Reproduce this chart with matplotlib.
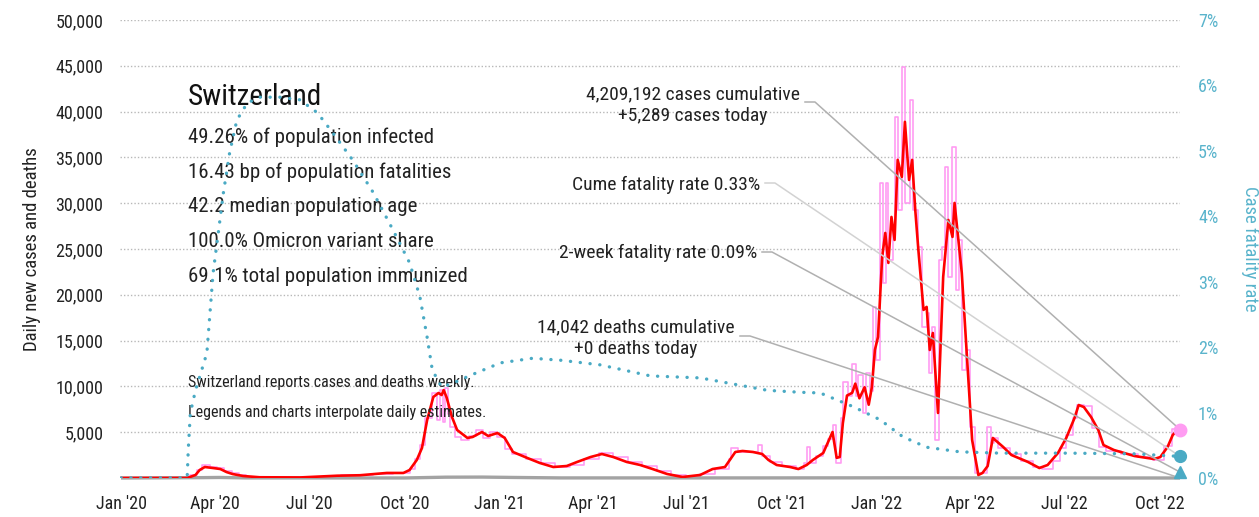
import pandas as pd
import matplotlib
matplotlib.use('Agg')
import matplotlib.pyplot as plt
import matplotlib.dates as mdates
from matplotlib import font_manager as fm
from matplotlib.ticker import FuncFormatter

# pick a narrow family if one is installed
available = {f.name for f in fm.fontManager.ttflist}
FONT = 'DejaVu Sans'
for name in ['Roboto Condensed', 'Liberation Sans Narrow', 'DejaVu Sans Condensed']:
    if name in available:
        FONT = name
        break
plt.rcParams['font.family'] = [FONT, 'DejaVu Sans']
plt.rcParams['font.stretch'] = 'condensed'

# Colors
RED = '#ff0000'
PINK = '#ff9cf2'
TEAL = '#4aaac4'
TEAL_TXT = '#5ab4cc'
GRID = '#b8b8b8'

# ---- data ----
# 7-day average of new cases (red)
avg_dates = [
    '2020-01-01', '2020-03-05', '2020-03-13', '2020-03-17', '2020-03-22', '2020-03-30', '2020-04-06', '2020-04-12', '2020-04-18', '2020-04-28',
    '2020-05-14', '2020-06-22', '2020-07-28', '2020-08-19', '2020-09-14', '2020-09-30', '2020-10-06', '2020-10-13', '2020-10-18', '2020-10-23',
    '2020-10-29', '2020-11-03', '2020-11-06', '2020-11-08', '2020-11-11', '2020-11-16', '2020-11-21', '2020-12-01', '2020-12-06', '2020-12-15',
    '2020-12-21', '2020-12-30', '2021-01-06', '2021-01-14', '2021-01-28', '2021-02-09', '2021-02-22', '2021-03-07', '2021-03-17', '2021-03-30',
    '2021-04-10', '2021-04-21', '2021-05-04', '2021-05-17', '2021-05-29', '2021-06-12', '2021-06-27', '2021-07-14', '2021-07-26', '2021-08-07',
    '2021-08-17', '2021-08-24', '2021-09-03', '2021-09-12', '2021-09-18', '2021-09-26', '2021-10-09', '2021-10-17', '2021-10-25', '2021-10-31',
    '2021-11-10', '2021-11-19', '2021-11-23', '2021-11-26', '2021-11-29', '2021-12-03', '2021-12-08', '2021-12-11', '2021-12-15', '2021-12-20',
    '2021-12-24', '2021-12-27', '2021-12-30', '2022-01-02', '2022-01-06', '2022-01-09', '2022-01-12', '2022-01-15', '2022-01-18', '2022-01-21',
    '2022-01-25', '2022-01-28', '2022-02-01', '2022-02-04', '2022-02-07', '2022-02-10', '2022-02-15', '2022-02-18', '2022-02-21', '2022-02-24',
    '2022-03-01', '2022-03-06', '2022-03-11', '2022-03-15', '2022-03-17', '2022-03-20', '2022-03-24', '2022-03-29', '2022-04-03', '2022-04-09',
    '2022-04-13', '2022-04-18', '2022-04-23', '2022-05-03', '2022-05-11', '2022-05-27', '2022-06-07', '2022-06-15', '2022-06-25', '2022-07-03',
    '2022-07-11', '2022-07-15', '2022-07-20', '2022-07-27', '2022-08-03', '2022-08-08', '2022-08-18', '2022-09-07', '2022-09-26', '2022-10-02',
    '2022-10-09', '2022-10-14', '2022-10-19', '2022-10-21',
]
avg_cases = [
    0, 0, 330, 870, 1200, 1090, 980, 650, 430, 220,
    80, 60, 250, 300, 550, 550, 870, 1970, 3280, 6330,
    8850, 9280, 9060, 9600, 8740, 6660, 5240, 4370, 4480, 5020,
    4590, 4910, 4370, 2840, 2180, 1640, 1200, 1310, 1750, 2290,
    2620, 2290, 1750, 1420, 980, 440, 110, 330, 980, 1200,
    2840, 2950, 2840, 2620, 1970, 1420, 1200, 980, 1420, 1970,
    2730, 5020, 2200, 2290, 6000, 9000, 9300, 10300, 8700, 9900,
    8000, 9900, 14000, 15400, 24130, 26750, 23480, 28500, 25990, 34730,
    32870, 38880, 32540, 34730, 29270, 24900, 18350, 18680, 13980, 15830,
    7100, 21950, 28170, 26320, 30030, 26750, 22390, 13210, 4150, 330,
    550, 1300, 4370, 3390, 2510, 1750, 1090, 1420, 2730, 4370,
    6550, 7970, 7750, 6660, 5240, 3600, 3060, 2400, 2070, 2290,
    3390, 4700, 5240, 5289,
]

# daily estimates (pink, step-like)
daily_dates = [
    '2020-01-01', '2020-03-08', '2020-03-14', '2020-03-19', '2020-03-27', '2020-04-03', '2020-04-10', '2020-04-17', '2020-04-24', '2020-05-01',
    '2020-06-01', '2020-07-15', '2020-08-01', '2020-09-01', '2020-09-20', '2020-10-06', '2020-10-11', '2020-10-16', '2020-10-21', '2020-10-28',
    '2020-11-02', '2020-11-04', '2020-11-07', '2020-11-09', '2020-11-12', '2020-11-14', '2020-11-19', '2020-11-25', '2020-12-02', '2020-12-09',
    '2020-12-16', '2020-12-23', '2020-12-30', '2021-01-06', '2021-01-13', '2021-01-27', '2021-02-10', '2021-02-24', '2021-03-10', '2021-03-24',
    '2021-04-07', '2021-04-21', '2021-05-05', '2021-05-19', '2021-06-02', '2021-06-16', '2021-06-30', '2021-07-14', '2021-07-28', '2021-08-11',
    '2021-08-13', '2021-08-20', '2021-09-08', '2021-09-12', '2021-09-20', '2021-10-01', '2021-10-15', '2021-10-22', '2021-10-25', '2021-10-28',
    '2021-11-03', '2021-11-10', '2021-11-15', '2021-11-19', '2021-11-22', '2021-11-27', '2021-11-29', '2021-12-04', '2021-12-08', '2021-12-12',
    '2021-12-14', '2021-12-18', '2021-12-21', '2021-12-25', '2021-12-28', '2021-12-31', '2022-01-04', '2022-01-07', '2022-01-10', '2022-01-12',
    '2022-01-16', '2022-01-18', '2022-01-21', '2022-01-25', '2022-01-28', '2022-02-02', '2022-02-05', '2022-02-10', '2022-02-14', '2022-02-18',
    '2022-02-20', '2022-02-23', '2022-02-26', '2022-03-02', '2022-03-05', '2022-03-08', '2022-03-11', '2022-03-15', '2022-03-18', '2022-03-21',
    '2022-03-24', '2022-03-28', '2022-04-01', '2022-04-06', '2022-04-17', '2022-04-21', '2022-04-24', '2022-04-28', '2022-05-10', '2022-05-20',
    '2022-06-01', '2022-06-10', '2022-06-20', '2022-06-27', '2022-07-03', '2022-07-10', '2022-07-13', '2022-07-20', '2022-07-28', '2022-08-04',
    '2022-08-10', '2022-08-25', '2022-09-10', '2022-09-25', '2022-10-06', '2022-10-13', '2022-10-21',
]
daily_cases = [
    0, 300, 900, 1400, 1250, 1100, 800, 500, 300, 150,
    50, 150, 300, 400, 600, 1000, 2100, 3600, 6500, 9300,
    6300, 9600, 6100, 9800, 7000, 5600, 4500, 4200, 4600, 5200,
    4400, 5000, 4500, 3200, 2600, 2100, 1600, 1200, 1400, 2100,
    2700, 2300, 1700, 1300, 800, 350, 100, 400, 1000, 2100,
    3300, 2800, 3600, 2400, 1800, 1300, 1000, 1600, 3400, 1600,
    2400, 3500, 4300, 5800, 1600, 6500, 10500, 9000, 12500, 9000,
    11200, 7100, 11500, 9500, 18700, 12900, 32200, 21300, 32200, 23800,
    27000, 39400, 29300, 44900, 30000, 41300, 29300, 25200, 16500, 18000,
    11500, 16500, 4200, 23800, 25200, 34000, 21900, 36100, 20500, 26000,
    11800, 14000, 5600, 550, 5600, 3800, 4400, 3300, 2600, 1900,
    1200, 1000, 1900, 3300, 4700, 6600, 8000, 7900, 5500, 3400,
    3000, 2600, 2300, 2000, 3500, 5300, 5289,
]

# daily deaths (grey, hugs the baseline)
death_dates = ['2020-01-01', '2020-03-20', '2020-04-05', '2020-05-01', '2020-10-01', '2020-11-10',
               '2020-12-15', '2021-01-15', '2021-03-01', '2021-09-01', '2022-01-20', '2022-04-01', '2022-10-21']
deaths = [0, 40, 60, 10, 5, 90, 100, 60, 10, 10, 20, 15, 0]

# case fatality rate, % (teal dotted, right axis)
cfr_dates = [
    '2020-01-01', '2020-03-04', '2020-03-05', '2020-03-06', '2020-03-08', '2020-03-13', '2020-03-19', '2020-03-24', '2020-03-27', '2020-03-30',
    '2020-04-04', '2020-04-09', '2020-04-15', '2020-04-22', '2020-05-02', '2020-05-14', '2020-06-03', '2020-06-22', '2020-07-09', '2020-07-24',
    '2020-08-12', '2020-09-01', '2020-09-20', '2020-10-06', '2020-10-16', '2020-10-23', '2020-10-28', '2020-11-06', '2020-11-17', '2020-12-04',
    '2021-01-02', '2021-02-02', '2021-03-01', '2021-04-08', '2021-05-27', '2021-07-14', '2021-09-17', '2021-10-19', '2021-11-07', '2021-12-09',
    '2022-01-04', '2022-01-26', '2022-02-18', '2022-03-22', '2022-04-30', '2022-07-04', '2022-09-06', '2022-10-21',
]
cfr = [
    0, 0, 0.02, 0.43, 0.99, 1.34, 1.65, 1.91, 2.52, 3.13,
    3.74, 4.36, 4.97, 5.47, 5.73, 5.82, 5.82, 5.78, 5.58, 5.27,
    4.86, 4.36, 3.79, 3.29, 2.77, 2.15, 1.65, 1.39, 1.45, 1.57,
    1.76, 1.83, 1.80, 1.73, 1.56, 1.53, 1.34, 1.31, 1.30, 1.09,
    0.89, 0.63, 0.47, 0.40, 0.38, 0.38, 0.37, 0.33,
]

last_date = '2022-10-21'
cases_today = 5289
deaths_today = 0
cume_cfr = 0.33
two_week_cfr = 0.09

country = 'Switzerland'
stats = [
    '49.26% of population infected',
    '16.43 bp of population fatalities',
    '42.2 median population age',
    '100.0% Omicron variant share',
    '69.1% total population immunized',
]
notes = ['Switzerland reports cases and deaths weekly.',
         'Legends and charts interpolate daily estimates.']

# ---- figure ----
fig = plt.figure(figsize=(12.59, 5.17), dpi=100)
ax = fig.add_axes([120 / 1259, 39 / 517, 1060 / 1259, 458 / 517])
ax2 = ax.twinx()

ax.plot(pd.to_datetime(daily_dates), daily_cases, drawstyle='steps-post', color=PINK, lw=1.2, zorder=2)
ax.plot(pd.to_datetime(death_dates), deaths, color='#a3a3a3', lw=2.4, zorder=2.5,
        solid_capstyle='butt', clip_on=False)
ax.plot(pd.to_datetime(avg_dates), avg_cases, color=RED, lw=1.9, zorder=3)
ax2.plot(pd.to_datetime(cfr_dates), cfr, color=TEAL, lw=2.4, linestyle=(0, (0.05, 2.9)),
         dash_capstyle='round', zorder=3)

end = pd.Timestamp(last_date)
ax.plot([end], [cases_today], 'o', color=PINK, ms=9, clip_on=False, zorder=6)
ax2.plot([end], [cume_cfr], 'o', color=TEAL, ms=8.5, clip_on=False, zorder=6)
ax2.plot([end], [two_week_cfr], '^', color=TEAL, ms=9, clip_on=False, zorder=6)

# axes
ax.set_xlim(pd.Timestamp('2019-12-31'), pd.Timestamp('2022-10-21'))
ax.set_ylim(0, 50000)
ax2.set_ylim(0, 7)
ax.set_yticks(range(5000, 50001, 5000))
ax.yaxis.set_major_formatter(FuncFormatter(lambda v, p: f'{int(v):,}'))
ax2.set_yticks(range(0, 8))
ax2.yaxis.set_major_formatter(FuncFormatter(lambda v, p: f'{int(v)}%'))
ax.xaxis.set_major_locator(mdates.MonthLocator(bymonth=[1, 4, 7, 10]))
ax.xaxis.set_major_formatter(mdates.DateFormatter("%b '%y"))

for a in (ax, ax2):
    for s in a.spines.values():
        s.set_visible(False)
ax.tick_params(axis='both', length=0, labelsize=13, labelcolor='#222222')
ax.tick_params(axis='y', pad=12)
ax.tick_params(axis='x', pad=12)
ax2.tick_params(axis='y', length=0, labelsize=13, labelcolor=TEAL_TXT, pad=13)
ax.grid(axis='y', linestyle=(0, (1, 1.5)), color=GRID, lw=1)
ax.set_axisbelow(True)

ax.set_ylabel('Daily new cases and deaths', fontsize=13.5, color='#222222')
ax.yaxis.set_label_coords((32 - 120) / 1060, 0.5)
ax.yaxis.label.set_va('center')
ax2.set_ylabel('Case fatality rate', fontsize=13.5, color=TEAL_TXT, rotation=270)
ax2.yaxis.set_label_coords((1250 - 120) / 1060, 0.5)
ax2.yaxis.label.set_va('center')

# text block
tx = (188 - 120) / 1060
ax.text(tx, (478 - 97) / 458, country, transform=ax.transAxes, fontsize=21, va='center', color='#111111')
for i, line in enumerate(stats):
    ax.text(tx, (478 - 137 - 34.8 * i) / 458, line, transform=ax.transAxes, fontsize=15,
            va='center', color='#222222')
for i, line in enumerate(notes):
    ax.text(tx, (478 - 383 - 30 * i) / 458, line, transform=ax.transAxes, fontsize=11.5,
            va='center', color='#222222')

# annotations with leader lines
callouts = [
    (f'4,209,192 cases cumulative\n+{cases_today:,} cases today', 800, 105, 102, ax, cases_today, '#b0b0b0'),
    (f'Cume fatality rate {cume_cfr:.2f}%', 760, 185, 183, ax2, cume_cfr, '#d2d2d2'),
    (f'2-week fatality rate {two_week_cfr:.2f}%', 757, 253, 252, ax2, two_week_cfr, '#b0b0b0'),
    (f'14,042 deaths cumulative\n+{deaths_today} deaths today', 735, 338, 336, ax, deaths_today, '#b0b0b0'),
]
to_axes = ax.transAxes.inverted()
for label, xr, yc, yl, axis, val, col in callouts:
    ax.text((xr - 120) / 1060, (478 - yc) / 458, label, transform=ax.transAxes, fontsize=14,
            ha='right', va='center', multialignment='center', color='#222222', linespacing=1.25)
    ex, ey = to_axes.transform(axis.transData.transform((mdates.date2num(end), val)))
    sx = (xr + 5 - 120) / 1060
    bx = (xr + 15 - 120) / 1060
    sy = (478 - yl) / 458
    ax.plot([sx, bx, ex], [sy, sy, ey], transform=ax.transAxes, color=col, lw=1.1,
            clip_on=False, zorder=5)

fig.savefig('out.png', dpi=100)
